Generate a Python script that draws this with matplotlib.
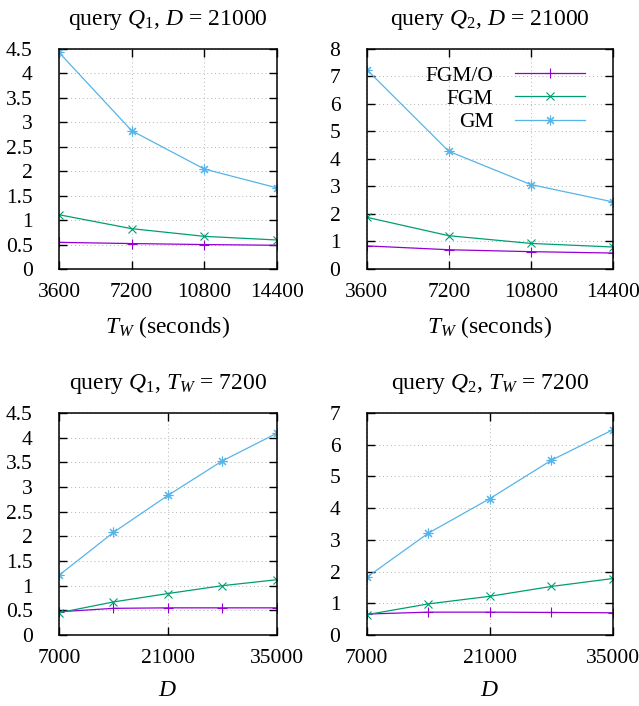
import matplotlib
matplotlib.use('Agg')
import matplotlib.pyplot as plt

plt.rcParams['font.family'] = ['Liberation Serif', 'DejaVu Serif']
plt.rcParams['mathtext.fontset'] = 'custom'
plt.rcParams['mathtext.rm'] = 'Liberation Serif'
plt.rcParams['mathtext.it'] = 'Liberation Serif:italic'
plt.rcParams['font.size'] = 15.5

# x values
tw_vals = [3600, 7200, 10800, 14400]
d_vals = [7000, 14000, 21000, 28000, 35000]

# query Q1, D = 21000
q1_tw_fgmo = [0.545, 0.52, 0.50, 0.485]
q1_tw_fgm = [1.11, 0.825, 0.668, 0.593]
q1_tw_gm = [4.43, 2.83, 2.045, 1.66]

# query Q2, D = 21000
q2_tw_fgmo = [0.84, 0.70, 0.63, 0.58]
q2_tw_fgm = [1.88, 1.21, 0.93, 0.80]
q2_tw_gm = [7.25, 4.28, 3.07, 2.44]

# query Q1, T_W = 7200
q1_d_fgmo = [0.47, 0.54, 0.55, 0.55, 0.55]
q1_d_fgm = [0.45, 0.67, 0.84, 1.0, 1.12]
q1_d_gm = [1.21, 2.08, 2.83, 3.53, 4.09]

# query Q2, T_W = 7200
q2_d_fgmo = [0.66, 0.72, 0.72, 0.71, 0.70]
q2_d_fgm = [0.64, 0.98, 1.22, 1.53, 1.78]
q2_d_gm = [1.82, 3.21, 4.30, 5.51, 6.47]

series_names = ['FGM/O', 'FGM', 'GM']
colors = ['#9400d3', '#009e73', '#56b4e9']
markers = ['+', 'x', (8, 2, 0)]
msizes = [7, 5.5, 7]


def panel(ax, x, ys, title, xlabel, xticks, yticks, legend=False):
    for y, name, c, m, ms in zip(ys, series_names, colors, markers, msizes):
        ax.plot(x, y, color=c, marker=m, markersize=ms, markeredgewidth=0.8,
                linewidth=0.9, label=name)
    ax.set_xlim(xticks[0], xticks[-1])
    ax.set_ylim(yticks[0], yticks[-1])
    ax.set_xticks(xticks)
    ax.set_yticks(yticks)
    ax.set_yticklabels([('%g' % v) for v in yticks])
    ax.grid(True, color='#b4b4b4', linestyle=(0, (1, 3)), linewidth=0.7)
    ax.tick_params(direction='in', length=6, width=1.0, top=True, right=True)
    ax.tick_params(axis='y', pad=19)
    ax.tick_params(axis='x', pad=10)
    for s in ax.spines.values():
        s.set_linewidth(1.1)
    ax.set_title(title, pad=17, fontsize=17)
    ax.set_xlabel(xlabel, labelpad=9, fontsize=17)
    if legend:
        ax.legend(loc='upper right', bbox_to_anchor=(0.886, 0.925), frameon=False,
                  markerfirst=False, handlelength=3.25, handletextpad=1.0,
                  labelspacing=0.15, borderpad=0, borderaxespad=0)


fig = plt.figure(figsize=(6.39, 7.06), dpi=100)
ax1 = fig.add_axes([0.0923, 0.619, 0.341, 0.3116])
ax2 = fig.add_axes([0.574, 0.619, 0.385, 0.3116])
ax3 = fig.add_axes([0.0923, 0.1006, 0.341, 0.3144])
ax4 = fig.add_axes([0.574, 0.1006, 0.385, 0.3144])

panel(ax1, tw_vals, [q1_tw_fgmo, q1_tw_fgm, q1_tw_gm],
      'query $Q_1$, $D$ = 21000', '$T_W$ (seconds)', tw_vals,
      [0, 0.5, 1, 1.5, 2, 2.5, 3, 3.5, 4, 4.5])
panel(ax2, tw_vals, [q2_tw_fgmo, q2_tw_fgm, q2_tw_gm],
      'query $Q_2$, $D$ = 21000', '$T_W$ (seconds)', tw_vals,
      list(range(0, 9)), legend=True)
panel(ax3, d_vals, [q1_d_fgmo, q1_d_fgm, q1_d_gm],
      'query $Q_1$, $T_W$ = 7200', '$D$', [7000, 21000, 35000],
      [0, 0.5, 1, 1.5, 2, 2.5, 3, 3.5, 4, 4.5])
panel(ax4, d_vals, [q2_d_fgmo, q2_d_fgm, q2_d_gm],
      'query $Q_2$, $T_W$ = 7200', '$D$', [7000, 21000, 35000],
      list(range(0, 8)))

fig.savefig('out.png', dpi=100)
